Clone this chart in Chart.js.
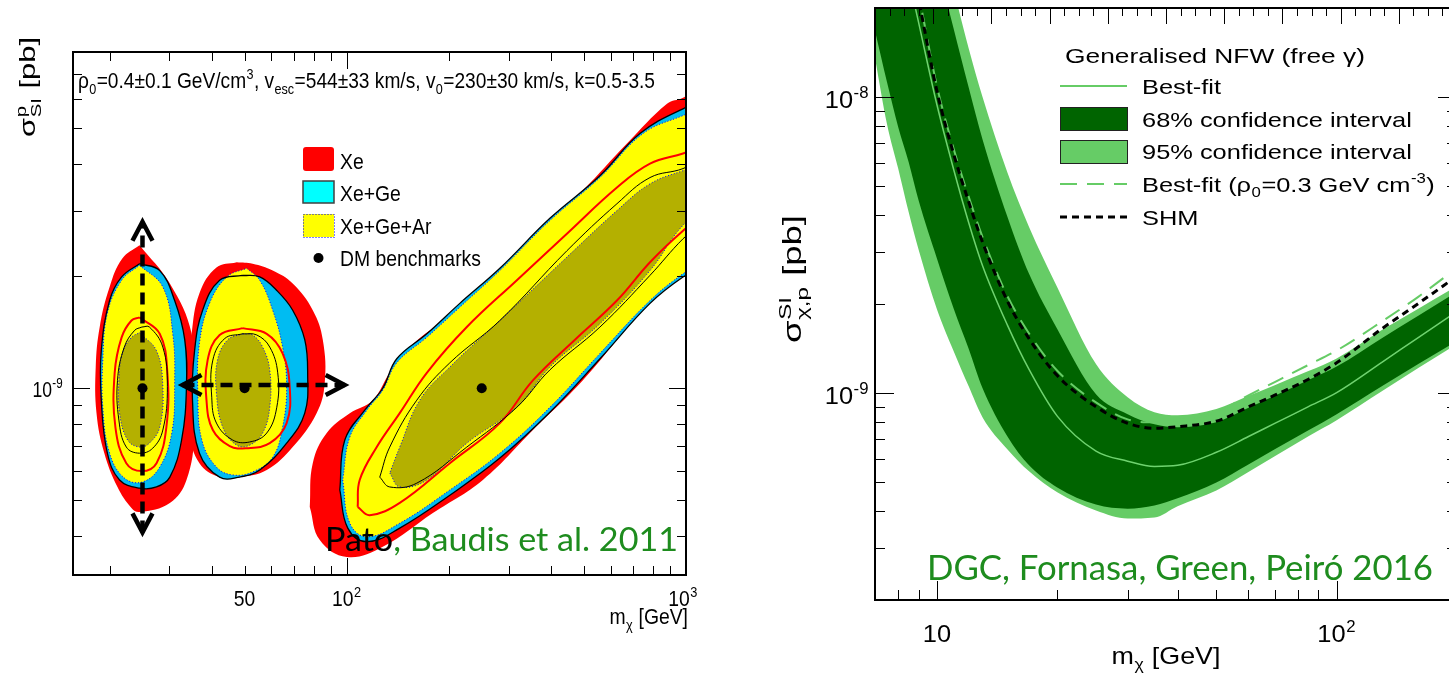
<!DOCTYPE html>
<html>
<head>
<meta charset="utf-8">
<title>WIMP mass and cross-section reconstruction</title>
<script src="https://cdn.jsdelivr.net/npm/chart.js@4.4.1/dist/chart.umd.min.js"></script>
<style>
  html, body { margin: 0; padding: 0; background: #fff; overflow: hidden; width: 1449px; height: 675px; }
  canvas { position: absolute; top: 0; }
  #left { left: 0; }
  #right { left: 720px; }
</style>
</head>
<body>
<canvas id="left" width="720" height="675"></canvas>
<canvas id="right" width="760" height="675"></canvas>
<script>
// ================= Left panel: reconstructed regions for three benchmarks =================
// points are [m_chi (GeV), sigma_SI^p (pb)]
const benchmarkMass = [25, 50, 250];
const benchmarkSigma = [1e-9, 1e-9, 1e-9];

// Xe, 95% region
const xe95_25 = [[24.5,2.42e-9],[30.1,1.91e-9],[34.9,1.40e-9],[35.1,1.03e-9],[35.6,7.58e-10],[33.7,5.67e-10],[30.1,4.92e-10],[24.5,4.65e-10],[23.2,4.77e-10],[21.1,5.43e-10],[19.3,6.69e-10],[18.3,8.57e-10],[18.2,1.14e-9],[18.7,1.46e-9],[20.0,1.87e-9],[21.8,2.23e-9]];
const xe95_50 = [[47.4,2.18e-9],[52.8,2.16e-9],[60.5,2.07e-9],[69.3,1.91e-9],[79.4,1.62e-9],[85.0,1.35e-9],[86.1,1.03e-9],[81.5,8.57e-10],[69.3,6.95e-10],[58.1,6.03e-10],[48.3,5.77e-10],[42.2,5.77e-10],[36.8,6.29e-10],[34.4,7.58e-10],[34.0,1.03e-9],[34.9,1.40e-9],[36.8,1.80e-9],[41.3,2.11e-9]];
const xe95_250 = [[77.8,4.80e-10],[83.3,3.91e-10],[100,3.52e-10],[127.7,3.75e-10],[179.4,4.62e-10],[251.9,5.67e-10],[353.8,7.72e-10],[496.8,1.05e-9],[698,1.52e-9],[879,1.91e-9],[1260,2.49e-9],[1260,6.91e-9],[980,6.03e-9],[879,5.81e-9],[669.9,4.54e-9],[496.8,3.40e-9],[353.8,2.54e-9],[251.9,1.87e-9],[191.9,1.52e-9],[153.4,1.29e-9],[133.9,1.10e-9],[119.3,9.29e-10],[102.1,8.57e-10],[87.3,7.58e-10],[79.4,6.29e-10]];

// Xe+Ge, 95% region
const xeGe95_25 = [[24.5,2.16e-9],[28.1,2.07e-9],[31.1,1.72e-9],[33.3,1.35e-9],[33.7,1.01e-9],[32.6,7.26e-10],[30.1,5.77e-10],[27.5,5.43e-10],[24.5,5.39e-10],[21.4,5.67e-10],[19.7,6.69e-10],[18.9,9.29e-10],[18.9,1.26e-9],[20.0,1.72e-9],[21.7,1.99e-9]];
const xeGe95_50 = [[49.3,2.01e-9],[55.4,1.99e-9],[62.2,1.83e-9],[69.3,1.62e-9],[75.2,1.35e-9],[76.7,1.10e-9],[75.2,8.57e-10],[66.5,7.12e-10],[55.4,6.03e-10],[48.3,5.77e-10],[42.2,5.77e-10],[36.8,6.69e-10],[35.1,9.29e-10],[35.6,1.26e-9],[37.6,1.62e-9],[42.2,1.95e-9]];
const xeGe95_250 = [[95.4,5.33e-10],[100.7,4.21e-10],[114.6,3.87e-10],[143.3,4.21e-10],[201.3,5.16e-10],[282.7,6.49e-10],[397,8.62e-10],[557.6,1.20e-9],[783.3,1.69e-9],[980,1.99e-9],[1260,2.27e-9],[1260,6.10e-9],[980,5.63e-9],[731.6,4.83e-9],[557.6,3.72e-9],[397,2.86e-9],[282.7,2.10e-9],[215.4,1.69e-9],[172.2,1.40e-9],[140.4,1.20e-9],[127.7,1.00e-9],[113,8.73e-10],[98.7,7.26e-10]];

// Xe+Ge+Ar, 95% region
const xeGeAr95_25 = [[24.5,2.14e-9],[28.7,1.87e-9],[30.7,1.40e-9],[31.1,1.03e-9],[30.5,7.58e-10],[28.1,6.14e-10],[25.0,5.60e-10],[22.1,5.74e-10],[20.0,6.69e-10],[19.1,8.89e-10],[19.1,1.19e-9],[19.7,1.59e-9],[21.7,1.95e-9]];
const xeGeAr95_50 = [[50.7,2.10e-9],[55.4,1.95e-9],[60.5,1.62e-9],[64.7,1.29e-9],[66.5,1.01e-9],[64.7,7.86e-10],[60.5,6.53e-10],[52.8,5.96e-10],[46.1,5.85e-10],[41.3,6.14e-10],[37.4,7.26e-10],[36.4,9.70e-10],[36.8,1.32e-9],[39.4,1.69e-9],[44.3,1.99e-9]];
const xeGeAr95_250 = [[97.3,5.67e-10],[102.1,4.34e-10],[114.6,3.99e-10],[143.3,4.34e-10],[201.3,5.33e-10],[282.7,6.69e-10],[397,8.89e-10],[557.6,1.24e-9],[783.3,1.72e-9],[980,2.03e-9],[1260,2.34e-9],[1260,5.92e-9],[980,5.40e-9],[746.9,4.83e-9],[557.6,3.68e-9],[397,2.82e-9],[282.7,2.07e-9],[215.4,1.65e-9],[172.2,1.37e-9],[140.4,1.17e-9],[127.7,9.88e-10],[114.6,8.73e-10],[102.1,7.39e-10]];

// Xe, 68% contour
const xe68_25 = [[24.5,1.55e-9],[28.1,1.40e-9],[29.6,1.10e-9],[29.4,7.86e-10],[27.5,6.29e-10],[24.9,5.99e-10],[22.4,6.29e-10],[20.8,7.86e-10],[20.7,1.10e-9],[21.7,1.37e-9],[23.2,1.52e-9]];
const xe68_50 = [[49.3,1.45e-9],[58.1,1.40e-9],[64.7,1.24e-9],[67.9,1.01e-9],[66.5,8.06e-10],[59.3,7.12e-10],[50.7,6.90e-10],[45.2,6.99e-10],[40.3,7.72e-10],[38.6,9.29e-10],[38.9,1.19e-9],[42.2,1.39e-9]];
const xe68_250 = [[107.7,4.80e-10],[116.9,4.56e-10],[143.3,4.92e-10],[201.3,6.29e-10],[282.7,8.06e-10],[353.8,1.05e-9],[470.7,1.35e-9],[625.8,1.72e-9],[783.3,2.18e-9],[980,2.65e-9],[1260,3.19e-9],[1260,4.62e-9],[980,4.27e-9],[783.3,4.01e-9],[625.8,3.46e-9],[445.6,2.60e-9],[317.3,1.95e-9],[225.9,1.46e-9],[172.2,1.10e-9],[143.3,8.57e-10],[122.6,6.95e-10],[109.2,5.67e-10]];

// Xe+Ge, 68% contour
const xeGe68_25 = [[24.9,1.46e-9],[26.2,1.46e-9],[28.7,1.29e-9],[29.6,1.01e-9],[28.7,7.72e-10],[26.8,6.90e-10],[24.5,6.69e-10],[22.4,6.95e-10],[21.3,8.21e-10],[21.1,1.05e-9],[22.1,1.29e-9],[23.7,1.43e-9]];
const xeGe68_50 = [[49.3,1.40e-9],[54.3,1.39e-9],[59.3,1.29e-9],[62.6,1.10e-9],[62.2,8.89e-10],[58.1,7.58e-10],[51.7,7.17e-10],[46.1,7.26e-10],[41.3,8.06e-10],[40.0,9.46e-10],[40.3,1.19e-9],[43.7,1.36e-9]];
const xeGe68_250 = [[125.1,5.77e-10],[133.9,5.43e-10],[160.9,5.56e-10],[225.9,6.95e-10],[317.3,8.89e-10],[397,1.12e-9],[557.6,1.46e-9],[783.3,2.01e-9],[980,2.52e-9],[1260,3.10e-9],[1260,4.35e-9],[980,3.89e-9],[783.3,3.68e-9],[625.8,3.13e-9],[445.6,2.34e-9],[282.7,1.52e-9],[201.3,1.17e-9],[160.9,9.29e-10],[133.9,6.95e-10]];

// Xe+Ge+Ar, 68% region
const xeGeAr68_25 = [[24.5,1.41e-9],[27.5,1.26e-9],[28.7,1.01e-9],[28.1,7.86e-10],[26.2,7.12e-10],[24.5,6.95e-10],[22.6,7.26e-10],[21.4,8.57e-10],[21.3,1.05e-9],[21.8,1.24e-9],[23.2,1.37e-9]];
const xeGeAr68_50 = [[49.3,1.40e-9],[52.8,1.39e-9],[56.5,1.29e-9],[59.3,1.12e-9],[59.3,8.89e-10],[56.5,7.58e-10],[51.7,7.03e-10],[47.4,7.03e-10],[43.1,7.86e-10],[41.3,9.70e-10],[41.6,1.19e-9],[44.6,1.35e-9]];
const xeGeAr68_250 = [[133.9,5.92e-10],[143.3,5.43e-10],[172.2,5.67e-10],[225.9,7.12e-10],[317.3,8.89e-10],[397,1.14e-9],[557.6,1.49e-9],[783.3,2.07e-9],[980,2.74e-9],[1260,3.29e-9],[1260,4.14e-9],[980,3.84e-9],[783.3,3.54e-9],[625.8,3.00e-9],[445.6,2.25e-9],[282.7,1.52e-9],[201.3,1.14e-9],[164.2,9.29e-10],[143.3,6.95e-10]];

// uncertainty arrows around the low-mass benchmarks
const arrowVertical = { mass: 25, sigmaFrom: 4.1e-10, sigmaTo: 2.8e-9 };
const arrowHorizontal = { sigma: 1.02e-9, massFrom: 32.8, massTo: 98.6 };

// axes
const leftMassRange = [15.6, 1000];
const leftSigmaRange = [3.15e-10, 8e-9];
const leftMassTicks = [20, 30, 40, 50, 60, 70, 80, 90, 100, 200, 300, 400, 500, 600, 700, 800, 900];
const leftMassMajor = [100];
const leftMassLabels = [50, 100, 1000];
const leftSigmaTicks = [4e-10, 5e-10, 6e-10, 7e-10, 8e-10, 9e-10, 1e-9, 2e-9, 3e-9, 4e-9, 5e-9, 6e-9, 7e-9];
const leftSigmaMajor = [1e-9];
const leftSigmaLabels = [1e-9];

// ================= Right panel: generalised NFW halo =================
const rightMass = [7, 7.5, 8, 8.5, 9, 10, 11, 12, 13, 15, 17, 20, 25, 30, 35, 40, 50, 60, 70, 85, 100, 130, 160, 200];
const ci95Low  = [1.356e-8, 8.12e-9, 5.74e-9, 4.08e-9, 3.05e-9, 1.92e-9, 1.39e-9, 1.056e-9, 8.29e-10, 6.46e-10, 5.44e-10, 4.62e-10, 4.01e-10, 3.77e-10, 3.80e-10, 4.15e-10, 4.69e-10, 5.40e-10, 6.12e-10, 7.15e-10, 8.10e-10, 1.016e-9, 1.215e-9, 1.466e-9];
const ci95High = [2.59e-7, 1.8e-7, 1.27e-7, 9.18e-8, 6.77e-8, 3.86e-8, 2.32e-8, 1.466e-8, 1.002e-8, 5.57e-9, 3.64e-9, 2.28e-9, 1.254e-9, 9.69e-10, 8.62e-10, 8.42e-10, 8.83e-10, 9.77e-10, 1.064e-9, 1.187e-9, 1.310e-9, 1.636e-9, 1.929e-9, 2.30e-9];
const ci68Low  = [1.674e-8, 1.124e-8, 7.93e-9, 6.02e-9, 4.47e-9, 2.85e-9, 1.94e-9, 1.415e-9, 1.040e-9, 7.15e-10, 5.70e-10, 4.80e-10, 4.20e-10, 4.07e-10, 4.17e-10, 4.41e-10, 4.99e-10, 5.73e-10, 6.46e-10, 7.49e-10, 8.49e-10, 1.056e-9, 1.254e-9, 1.50e-9];
const ci68High = [2.07e-7, 1.43e-7, 1.0e-7, 7.2e-8, 5.31e-8, 2.85e-8, 1.713e-8, 1.081e-8, 7.20e-9, 3.95e-9, 2.53e-9, 1.648e-9, 9.92e-10, 8.49e-10, 7.85e-10, 7.67e-10, 7.97e-10, 8.90e-10, 9.79e-10, 1.107e-9, 1.230e-9, 1.536e-9, 1.824e-9, 2.20e-9];
const bestFit  = [8.29e-8, 5.44e-8, 3.68e-8, 2.53e-8, 1.784e-8, 9.42e-9, 5.73e-9, 3.78e-9, 2.70e-9, 1.70e-9, 1.202e-9, 8.36e-10, 6.37e-10, 5.89e-10, 5.65e-10, 5.70e-10, 6.31e-10, 7.12e-10, 7.90e-10, 9.00e-10, 1.004e-9, 1.273e-9, 1.541e-9, 1.888e-9];
const bestFitRho03 = [1.23e-7, 7.68e-8, 4.95e-8, 3.28e-8, 2.23e-8, 1.09e-8, 6.72e-9, 4.62e-9, 3.37e-9, 2.13e-9, 1.59e-9, 1.19e-9, 9.30e-10, 8.15e-10, 7.97e-10, 8.10e-10, 8.62e-10, 9.81e-10, 1.090e-9, 1.245e-9, 1.393e-9, 1.748e-9, 2.115e-9, 2.65e-9];
const shm      = [1.18e-7, 7.38e-8, 4.76e-8, 3.15e-8, 2.14e-8, 1.048e-8, 6.46e-9, 4.44e-9, 3.24e-9, 2.05e-9, 1.527e-9, 1.146e-9, 8.99e-10, 7.91e-10, 7.61e-10, 7.70e-10, 8.04e-10, 8.97e-10, 9.84e-10, 1.114e-9, 1.266e-9, 1.653e-9, 2.007e-9, 2.486e-9];

const rightMassRange = [7, 200];
const rightSigmaRange = [2e-10, 2e-8];
const rightMassTicks = [8, 9, 10, 20, 30, 40, 50, 60, 70, 80, 90, 100];
const rightMassMajor = [10, 100];
const rightMassLabels = [10, 100];
const rightSigmaTicks = [3e-10, 4e-10, 5e-10, 6e-10, 7e-10, 8e-10, 9e-10, 1e-9, 2e-9, 3e-9, 4e-9, 5e-9, 6e-9, 7e-9, 8e-9, 9e-9, 1e-8];
const rightSigmaMajor = [1e-9, 1e-8];
const rightSigmaLabels = [1e-8, 1e-9];
const topDivisions = 10, topSubdivisions = 4;

// ================= helpers =================
const SANS = '"Liberation Sans", Arial, Helvetica, sans-serif';
const ROUND = 'Lato, "Open Sans", sans-serif';

function measureParts(ctx, parts, size, family) {
  const small = size * 0.66;
  const segs = [];
  let total = 0;
  for (const p of parts) {
    const seg = typeof p === 'string' ? { t: p } : p;
    let w;
    if (seg.sup !== undefined && seg.sub !== undefined) {
      ctx.font = `${small}px ${family}`;
      w = Math.max(ctx.measureText(seg.sup).width, ctx.measureText(seg.sub).width) + size * 0.05;
    } else if (seg.sup !== undefined || seg.sub !== undefined) {
      ctx.font = `${small}px ${family}`;
      w = ctx.measureText(seg.sup !== undefined ? seg.sup : seg.sub).width + size * 0.04;
    } else {
      ctx.font = `${size}px ${family}`;
      w = ctx.measureText(seg.t).width;
    }
    segs.push({ seg, w });
    total += w;
  }
  return { segs, total };
}

function drawRich(ctx, parts, x, y, o) {
  const size = o.size, family = o.family || SANS, small = size * 0.66;
  const m = measureParts(ctx, parts, size, family);
  const sx = o.width ? o.width / m.total : (o.sx || 1);
  const total = m.total * sx;
  ctx.save();
  ctx.translate(x, y);
  if (o.rot) ctx.rotate(o.rot);
  ctx.translate(o.align === 'center' ? -total / 2 : o.align === 'right' ? -total : 0, 0);
  ctx.scale(sx, 1);
  ctx.textAlign = 'left';
  ctx.textBaseline = 'alphabetic';
  let cx = 0;
  for (const { seg, w } of m.segs) {
    ctx.fillStyle = seg.color || o.color || '#000';
    if (seg.sup !== undefined || seg.sub !== undefined) {
      ctx.font = `${small}px ${family}`;
      if (seg.sup !== undefined) ctx.fillText(seg.sup, cx + size * 0.02, -size * 0.42);
      if (seg.sub !== undefined) ctx.fillText(seg.sub, cx + size * 0.02, size * 0.27);
    } else {
      ctx.font = `${size}px ${family}`;
      ctx.fillText(seg.t, cx, 0);
    }
    cx += w;
  }
  ctx.restore();
}

function powerLabel(v) {
  if (v === 10 || v === 50) return [String(v)];
  return ['10', { sup: String(Math.round(Math.log10(v))) }];
}

function closed(points) {
  const d = points.map(p => ({ x: p[0], y: p[1] }));
  d.push({ x: points[0][0], y: points[0][1] });
  return d;
}
function series(xs, ys) { return xs.map((x, i) => ({ x, y: ys[i] })); }

function drawFrameTicks(ctx, chart, t) {
  const a = chart.chartArea, X = chart.scales.x, Y = chart.scales.y;
  ctx.save();
  ctx.strokeStyle = '#000';
  ctx.lineWidth = 1;
  ctx.beginPath();
  t.xTicks.forEach(v => {
    const p = Math.round(X.getPixelForValue(v)) + 0.5;
    const l = t.xMajor.includes(v) ? t.major : t.minor;
    ctx.moveTo(p, a.bottom); ctx.lineTo(p, a.bottom - l);
    if (t.mirrorTop) { ctx.moveTo(p, a.top); ctx.lineTo(p, a.top + l); }
  });
  t.yTicks.forEach(v => {
    const p = Math.round(Y.getPixelForValue(v)) + 0.5;
    const l = t.yMajor.includes(v) ? t.major : t.minor;
    ctx.moveTo(a.left, p); ctx.lineTo(a.left + l, p);
    ctx.moveTo(a.right, p); ctx.lineTo(a.right - l, p);
  });
  ctx.stroke();
  ctx.lineWidth = 2;
  ctx.strokeRect(a.left, a.top, a.right - a.left, a.bottom - a.top);
  ctx.restore();
}

function chevron(ctx, tip, dx, dy, len, half) {
  // dx,dy: unit vector pointing toward the tip
  const bx = tip.x - dx * len, by = tip.y - dy * len;
  ctx.beginPath();
  ctx.moveTo(bx - dy * half, by + dx * half);
  ctx.lineTo(tip.x, tip.y);
  ctx.lineTo(bx + dy * half, by - dx * half);
  ctx.stroke();
}

// ================= left chart =================
const COL = { red: '#ff0000', cyan: '#00bcf2', yellow: '#ffff00', olive: '#b4b000', blue: '#0000ff' };
const NONE = 'rgba(0,0,0,0)';
const leftLayers = [];
[xe95_25, xe95_50, xe95_250].forEach(c => leftLayers.push({ data: closed(c), fill: 'shape', backgroundColor: COL.red, borderColor: NONE, borderWidth: 0 }));
[xeGe95_25, xeGe95_50, xeGe95_250].forEach(c => leftLayers.push({ data: closed(c), fill: 'shape', backgroundColor: COL.cyan, borderColor: NONE, borderWidth: 0 }));
[xeGeAr95_25, xeGeAr95_50, xeGeAr95_250].forEach(c => leftLayers.push({ data: closed(c), fill: 'shape', backgroundColor: COL.yellow, borderColor: COL.blue, borderWidth: 1, borderDash: [1, 2] }));
[xeGe95_25, xeGe95_50, xeGe95_250].forEach(c => leftLayers.push({ data: closed(c), fill: false, borderColor: '#000', borderWidth: 1.3 }));
[xeGeAr68_25, xeGeAr68_50, xeGeAr68_250].forEach(c => leftLayers.push({ data: closed(c), fill: 'shape', backgroundColor: COL.olive, borderColor: COL.blue, borderWidth: 1, borderDash: [1, 2] }));
[xe68_25, xe68_50, xe68_250].forEach(c => leftLayers.push({ data: closed(c), fill: false, borderColor: COL.red, borderWidth: 2 }));
[xeGe68_25, xeGe68_50, xeGe68_250].forEach(c => leftLayers.push({ data: closed(c), fill: false, borderColor: '#000', borderWidth: 1 }));
leftLayers.push({ data: [{ x: arrowVertical.mass, y: arrowVertical.sigmaFrom }, { x: arrowVertical.mass, y: arrowVertical.sigmaTo }], fill: false, borderColor: '#000', borderWidth: 4.5, borderDash: [12, 7], tension: 0 });
leftLayers.push({ data: [{ x: arrowHorizontal.massFrom, y: arrowHorizontal.sigma }, { x: arrowHorizontal.massTo, y: arrowHorizontal.sigma }], fill: false, borderColor: '#000', borderWidth: 4.5, borderDash: [12, 7], tension: 0 });
leftLayers.push({ data: series(benchmarkMass, benchmarkSigma), showLine: false, pointRadius: 5, pointBackgroundColor: '#000', pointBorderWidth: 0 });
leftLayers.forEach((d, i) => {
  d.order = leftLayers.length - i;
  if (d.tension === undefined) d.tension = 0.4;
  if (d.pointRadius === undefined) d.pointRadius = 0;
});

const LT = { size: 22, sx: 0.88 }; // condensed lettering of the left panel

const leftDecor = {
  id: 'leftDecor',
  afterDraw(chart) {
    const ctx = chart.ctx, X = chart.scales.x, Y = chart.scales.y, a = chart.chartArea;
    // arrow heads
    ctx.save();
    ctx.strokeStyle = '#000'; ctx.lineWidth = 4.5; ctx.lineJoin = 'miter'; ctx.lineCap = 'butt';
    const vx = X.getPixelForValue(arrowVertical.mass);
    chevron(ctx, { x: vx, y: Y.getPixelForValue(arrowVertical.sigmaTo) }, 0, -1, 19, 10);
    chevron(ctx, { x: vx, y: Y.getPixelForValue(arrowVertical.sigmaFrom) }, 0, 1, 19, 10);
    const hy = Y.getPixelForValue(arrowHorizontal.sigma);
    chevron(ctx, { x: X.getPixelForValue(arrowHorizontal.massFrom), y: hy }, -1, 0, 19, 10);
    chevron(ctx, { x: X.getPixelForValue(arrowHorizontal.massTo), y: hy }, 1, 0, 19, 10);
    ctx.restore();

    drawFrameTicks(ctx, chart, { xTicks: leftMassTicks, xMajor: leftMassMajor, yTicks: leftSigmaTicks, yMajor: leftSigmaMajor, major: 17, minor: 9, mirrorTop: true });

    // tick labels
    leftMassLabels.forEach(v => drawRich(ctx, powerLabel(v), X.getPixelForValue(v) - (v === 1000 ? 3 : 0), 606, { size: LT.size, align: 'center', sx: LT.sx }));
    leftSigmaLabels.forEach(v => drawRich(ctx, powerLabel(v), a.left - 10, Y.getPixelForValue(v) + 9, { size: LT.size, align: 'right', sx: 0.8 }));

    // axis titles
    drawRich(ctx, ['m', { sub: 'χ' }, ' [GeV]'], 688, 624, { size: LT.size, align: 'right', sx: LT.sx });
    drawRich(ctx, ['σ', { sup: 'p', sub: 'SI' }, ' [pb]'], 35, 37, { size: 22, align: 'right', rot: -Math.PI / 2, width: 100 });

    // halo parameters
    drawRich(ctx, ['ρ', { sub: '0' }, '=0.4±0.1 GeV/cm', { sup: '3' }, ', v', { sub: 'esc' }, '=544±33 km/s, v', { sub: '0' }, '=230±30 km/s, k=0.5-3.5'], 78, 88, { size: 22, width: 577 });

    // legend
    ctx.save();
    ctx.fillStyle = COL.red;
    ctx.beginPath(); ctx.roundRect(303, 147, 31, 24, 3); ctx.fill();
    ctx.fillStyle = '#00ffff';
    ctx.fillRect(303, 181, 31, 22);
    ctx.strokeStyle = '#404040'; ctx.lineWidth = 1.5;
    ctx.strokeRect(303, 181, 31, 22);
    ctx.fillStyle = COL.yellow;
    ctx.fillRect(303, 214, 31, 23);
    ctx.strokeStyle = COL.blue; ctx.lineWidth = 1; ctx.setLineDash([1, 2]);
    ctx.strokeRect(303.5, 214.5, 31, 23);
    ctx.setLineDash([]);
    ctx.fillStyle = '#000';
    ctx.beginPath(); ctx.arc(318.5, 258, 5, 0, Math.PI * 2); ctx.fill();
    ctx.restore();
    drawRich(ctx, ['Xe'], 340, 168.5, LT);
    drawRich(ctx, ['Xe+Ge'], 340, 201, LT);
    drawRich(ctx, ['Xe+Ge+Ar'], 340, 234, LT);
    drawRich(ctx, ['DM benchmarks'], 340, 266, LT);

    // credit
    drawRich(ctx, [{ t: 'Pato', color: '#000' }, { t: ', Baudis et al. 2011', color: '#1e8c1e' }], 325, 551, { size: 33, family: ROUND, width: 353 });
  }
};

new Chart(document.getElementById('left'), {
  type: 'line',
  data: { datasets: leftLayers },
  options: {
    responsive: false, animation: false, devicePixelRatio: 1,
    layout: { padding: { left: 73, right: 34, top: 52, bottom: 100 } },
    elements: { line: { capBezierPoints: false } },
    scales: {
      x: { type: 'logarithmic', min: leftMassRange[0], max: leftMassRange[1], display: false },
      y: { type: 'logarithmic', min: leftSigmaRange[0], max: leftSigmaRange[1], display: false }
    },
    plugins: { legend: { display: false }, tooltip: { enabled: false } }
  },
  plugins: [leftDecor]
});

// ================= right chart =================
const GREEN = { dark: '#006400', light: '#66cc66', line: '#6fd36f', text: '#1e8c1e' };
const OFF = 720; // canvas offset on the page
const P = x => x - OFF;

const rightLayers = [
  { data: series(rightMass, ci95Low), fill: false, borderColor: NONE, borderWidth: 0 },
  { data: series(rightMass, ci95High), fill: '-1', backgroundColor: GREEN.light, borderColor: NONE, borderWidth: 0 },
  { data: series(rightMass, ci68Low), fill: false, borderColor: NONE, borderWidth: 0 },
  { data: series(rightMass, ci68High), fill: '-1', backgroundColor: GREEN.dark, borderColor: NONE, borderWidth: 0 },
  { data: series(rightMass, bestFit), fill: false, borderColor: GREEN.line, borderWidth: 1.5 },
  { data: series(rightMass, bestFitRho03), fill: false, borderColor: GREEN.light, borderWidth: 2, borderDash: [17, 10] },
  { data: series(rightMass, shm), fill: false, borderColor: '#000', borderWidth: 3, borderDash: [7, 5] }
];
rightLayers.forEach((d, i) => {
  d.order = rightLayers.length - i;
  d.pointRadius = 0;
  d.cubicInterpolationMode = 'monotone';
});

const rightDecor = {
  id: 'rightDecor',
  afterDraw(chart) {
    const ctx = chart.ctx, X = chart.scales.x, Y = chart.scales.y, T = chart.scales.xt, a = chart.chartArea;
    drawFrameTicks(ctx, chart, { xTicks: rightMassTicks, xMajor: rightMassMajor, yTicks: rightSigmaTicks, yMajor: rightSigmaMajor, major: 19, minor: 10, mirrorTop: false });
    // evenly divided top axis
    ctx.save();
    ctx.strokeStyle = '#000'; ctx.lineWidth = 1; ctx.beginPath();
    for (let k = 0; k <= topDivisions * topSubdivisions; k++) {
      const p = Math.round(T.getPixelForValue(k / topSubdivisions)) + 0.5;
      const l = k % topSubdivisions === 0 ? 16 : 8;
      ctx.moveTo(p, a.top); ctx.lineTo(p, a.top + l);
    }
    ctx.stroke();
    ctx.restore();

    rightMassLabels.forEach(v => drawRich(ctx, powerLabel(v), X.getPixelForValue(v), 642, { size: 24, align: 'center', sx: 1.06 }));
    rightSigmaLabels.forEach(v => drawRich(ctx, powerLabel(v), P(869), Y.getPixelForValue(v) + 11, { size: 24, align: 'right', sx: 1.06 }));

    drawRich(ctx, ['m', { sub: 'χ' }, ' [GeV]'], (a.left + a.right) / 2, 664, { size: 24, align: 'center', sx: 1.12 });
    drawRich(ctx, ['σ', { sup: 'SI', sub: 'χ,p' }, ' [pb]'], P(801), 279, { size: 25, align: 'center', rot: -Math.PI / 2, width: 128 });

    // legend
    const sxL = 1.21;
    drawRich(ctx, ['Generalised NFW (free γ)'], P(1065), 62.5, { size: 21, width: 300 });
    ctx.save();
    ctx.strokeStyle = GREEN.light; ctx.lineWidth = 2;
    ctx.beginPath(); ctx.moveTo(P(1060), 86); ctx.lineTo(P(1127), 86); ctx.stroke();
    ctx.fillStyle = GREEN.dark; ctx.fillRect(P(1060), 107, 67, 23);
    ctx.strokeStyle = '#222'; ctx.lineWidth = 1; ctx.strokeRect(P(1060) + 0.5, 107.5, 67, 23);
    ctx.fillStyle = GREEN.light; ctx.fillRect(P(1060), 140, 67, 23);
    ctx.strokeRect(P(1060) + 0.5, 140.5, 67, 23);
    ctx.strokeStyle = GREEN.light; ctx.lineWidth = 2; ctx.setLineDash([17, 10]);
    ctx.beginPath(); ctx.moveTo(P(1060), 184); ctx.lineTo(P(1127), 184); ctx.stroke();
    ctx.strokeStyle = '#000'; ctx.lineWidth = 3; ctx.setLineDash([7, 5]);
    ctx.beginPath(); ctx.moveTo(P(1060), 217); ctx.lineTo(P(1127), 217); ctx.stroke();
    ctx.restore();
    drawRich(ctx, ['Best-fit'], P(1142), 93.5, { size: 21, sx: sxL });
    drawRich(ctx, ['68% confidence interval'], P(1142), 126.5, { size: 21, sx: sxL });
    drawRich(ctx, ['95% confidence interval'], P(1142), 159, { size: 21, sx: sxL });
    drawRich(ctx, ['Best-fit (ρ', { sub: '0' }, '=0.3 GeV cm', { sup: '-3' }, ')'], P(1142), 191.5, { size: 21, sx: sxL });
    drawRich(ctx, ['SHM'], P(1142), 224.5, { size: 21, sx: sxL });

    drawRich(ctx, ['DGC, Fornasa, Green, Peiró 2016'], P(927), 580, { size: 34, family: ROUND, width: 506, color: GREEN.text });
  }
};

new Chart(document.getElementById('right'), {
  type: 'line',
  data: { datasets: rightLayers },
  options: {
    responsive: false, animation: false, devicePixelRatio: 1,
    layout: { padding: { left: 155, right: 23, top: 8, bottom: 75 } },
    elements: { line: { capBezierPoints: false } },
    scales: {
      x: { type: 'logarithmic', min: rightMassRange[0], max: rightMassRange[1], display: false },
      xt: { type: 'linear', min: 0, max: topDivisions, display: false },
      y: { type: 'logarithmic', min: rightSigmaRange[0], max: rightSigmaRange[1], display: false }
    },
    plugins: { legend: { display: false }, tooltip: { enabled: false } }
  },
  plugins: [rightDecor]
});
</script>
</body>
</html>
